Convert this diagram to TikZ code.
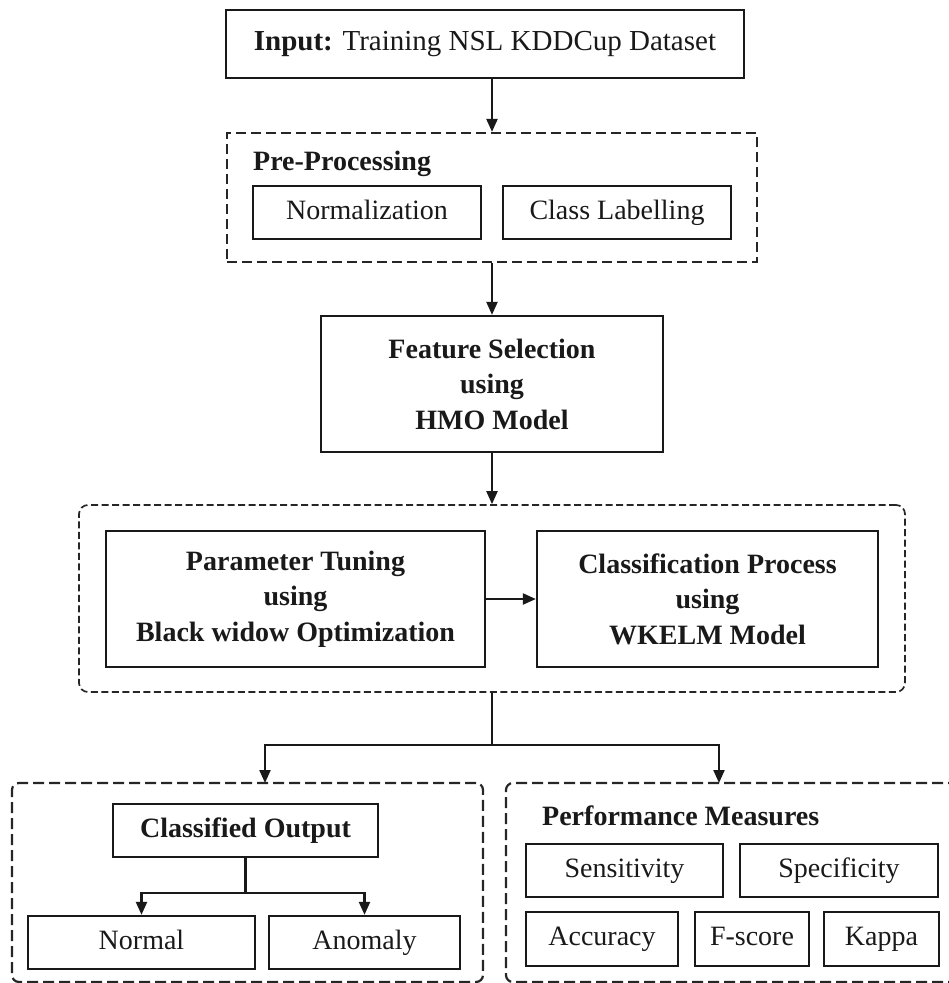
\documentclass[tikz,border=0pt]{standalone}
\usepackage{fontspec}
\setmainfont{Liberation Serif}
\usetikzlibrary{arrows.meta}
\tikzset{
  box/.style={draw=black!90, line width=2.3pt, rectangle, align=center, inner sep=0pt,
              font=\fontsize{28}{35.5}\selectfont, text=black!90},
  one/.style={text height=19.5pt, text depth=6pt},
  bbox/.style={box, font=\fontsize{28}{35.5}\selectfont\bfseries},
  grp/.style={draw=black!85, line width=2.2pt, rectangle, inner sep=0pt, dash pattern=on 10pt off 5pt},
  biggrp/.style={draw=black!85, line width=1.7pt, rectangle, inner sep=0pt, rounded corners=9pt, dash pattern=on 7pt off 3.5pt},
  lowgrp/.style={draw=black!85, line width=2.2pt, rectangle, inner sep=0pt, rounded corners=7pt, dash pattern=on 11pt off 5pt},
  lbl/.style={font=\fontsize{28}{35.5}\selectfont\bfseries, text=black!90, inner sep=0pt, anchor=base west},
  arr/.style={draw=black!90, line width=2.2pt, -{Triangle[length=13pt,width=11pt]}},
  ln/.style={draw=black!90, line width=2.2pt},
}
\begin{document}
\begin{tikzpicture}[x=1pt,y=-1pt]
\useasboundingbox (0,0) rectangle (949,983);
\clip (0,0) rectangle (949,983);
% top
\node[box, one, minimum width=518pt, minimum height=68pt, font=\fontsize{29}{36}\selectfont] (input) at (485,44) {\textbf{Input:} Training NSL KDDCup Dataset};
\node[grp, minimum width=530pt, minimum height=129pt] (pp) at (492,197.5) {};
\node[lbl] (pplbl) at (253,170) {Pre-Processing};
\node[box, one, minimum width=228pt, minimum height=53pt] (norm) at (367,212.5) {Normalization};
\node[box, one, minimum width=228pt, minimum height=53pt] (cl) at (617,212.5) {Class Labelling};
\node[bbox, minimum width=342pt, minimum height=136pt] (fs) at (492,384) {Feature Selection\\using\\HMO Model};
% middle group
\node[biggrp, minimum width=826pt, minimum height=187pt] (big) at (492,598.5) {};
\node[bbox, minimum width=379pt, minimum height=136pt] (pt) at (295.5,599) {Parameter Tuning\\using\\Black widow Optimization};
\node[bbox, minimum width=341pt, minimum height=136pt] (cp) at (707.5,599) {Classification Process\\using\\WKELM Model};
% lower groups
\node[lowgrp, minimum width=471pt, minimum height=199pt] (lg) at (247.5,882.5) {};
\node[lowgrp, minimum width=460pt, minimum height=199pt] (rg) at (736,882.5) {};
\coordinate (split) at (492,745);
\coordinate (la) at (265,783);
\coordinate (ra) at (719,783);
\node[bbox, one, minimum width=265pt, minimum height=53pt] (co) at (245.5,830.5) {Classified Output};
\node[box, one, minimum width=227pt, minimum height=53pt] (normal) at (141.5,942.5) {Normal};
\node[box, one, minimum width=191pt, minimum height=53pt] (anom) at (364.5,942.5) {Anomaly};
\node[lbl] (pmlbl) at (542,825) {Performance Measures};
\node[box, one, minimum width=197pt, minimum height=53pt] (sens) at (624.5,870.5) {Sensitivity};
\node[box, one, minimum width=198pt, minimum height=53pt] (spec) at (839,870.5) {Specificity};
\node[box, one, minimum width=152pt, minimum height=54pt] (acc) at (602,939) {Accuracy};
\node[box, one, minimum width=114pt, minimum height=54pt] (fsc) at (752,939) {F-score};
\node[box, one, minimum width=115pt, minimum height=54pt] (kap) at (881.5,939) {Kappa};
% connectors
\draw[arr] (pp.north |- input.south) -- (pp.north);
\draw[arr] (pp.south) -- (fs.north);
\draw[arr] (fs.south) -- (big.north);
\draw[arr] (pt.east) -- (cp.west);
\draw[ln] (big.south) -- (split);
\draw[arr] (split) -| (la);
\draw[arr] (split) -| (ra);
\draw[ln] (co.south) -- ++(0,35) coordinate (cb);
\draw[arr] (cb) -| (normal.north);
\draw[arr] (cb) -| (anom.north);
\end{tikzpicture}
\end{document}
